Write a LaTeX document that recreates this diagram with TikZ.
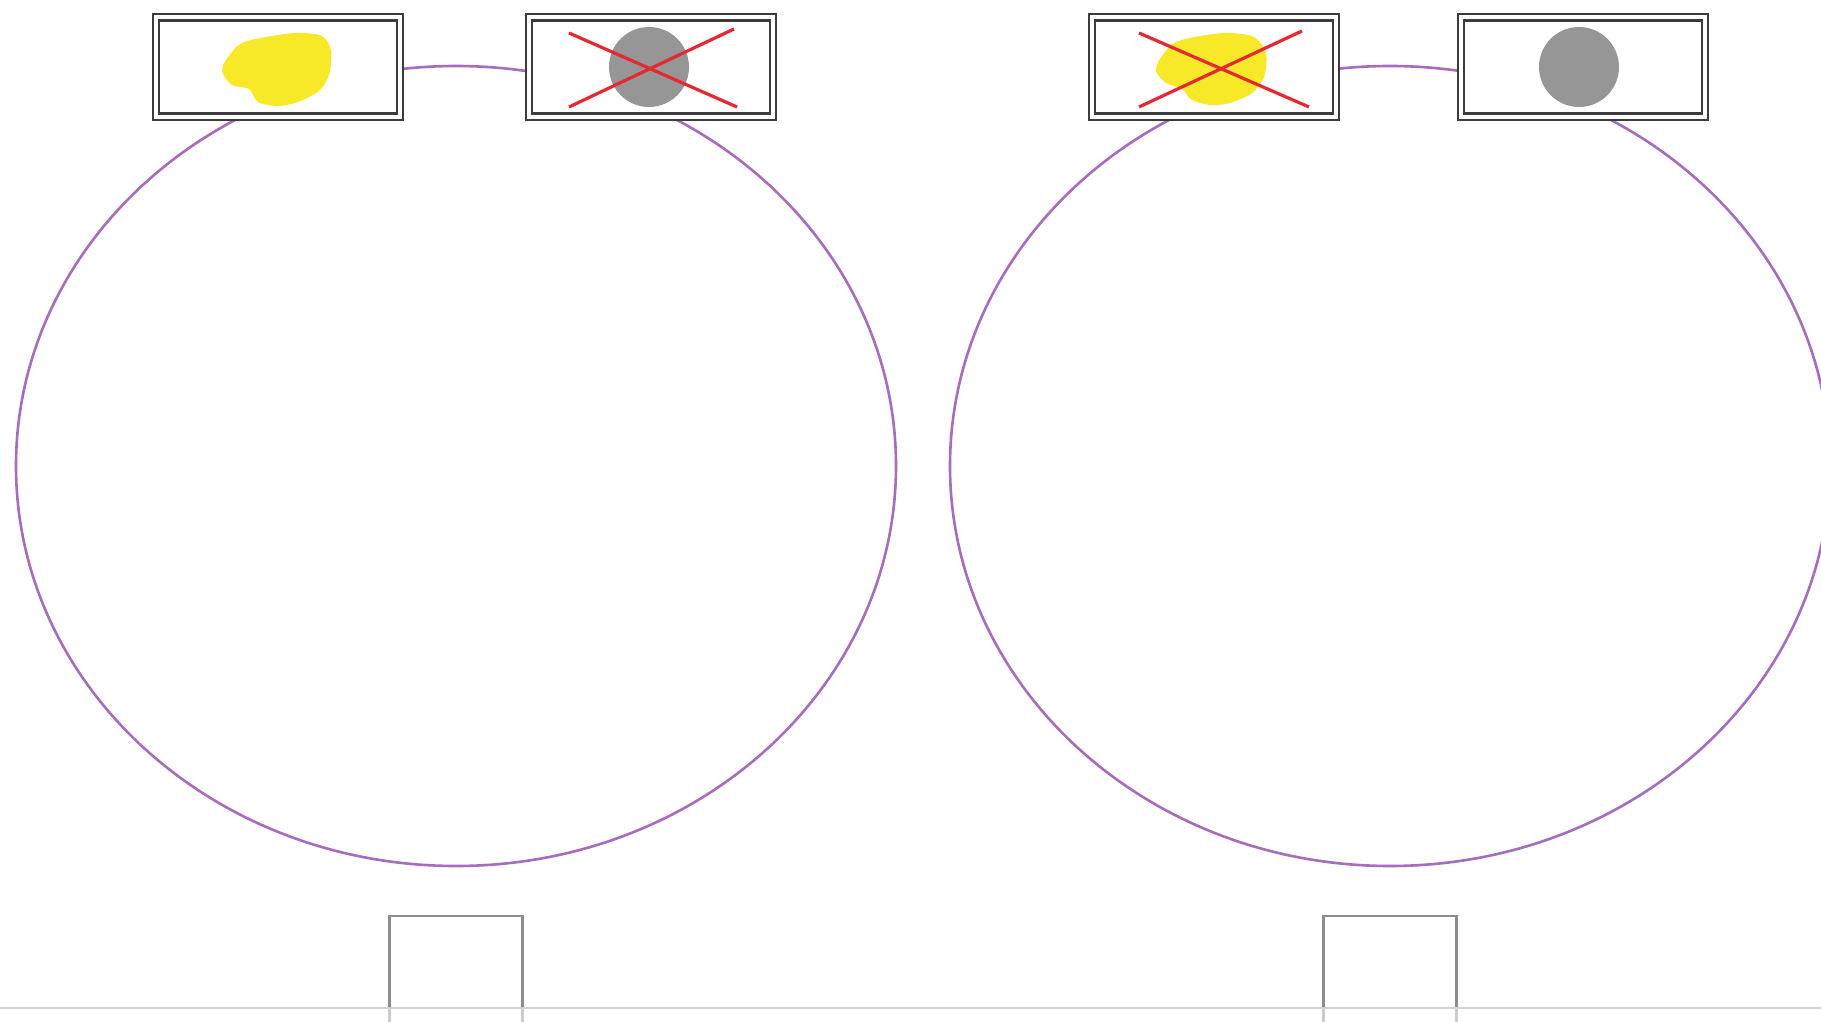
\documentclass[tikz,border=0pt]{standalone}
\usetikzlibrary{positioning}
\definecolor{ringpurple}{RGB}{166,108,190}
\definecolor{blobyellow}{RGB}{247,232,40}
\definecolor{dotgray}{RGB}{150,150,150}
\definecolor{crossred}{RGB}{230,40,50}
\definecolor{framegray}{RGB}{60,60,60}

\begin{document}
\begin{tikzpicture}[
  x=0.01cm,y=-0.01cm,
  frame/.style={draw=framegray,fill=white,double=white,double distance=0.04cm,
    line width=0.024cm,inner sep=0pt,minimum width=2.44cm,minimum height=0.99cm},
  slot/.style={draw=black!45,line width=0.022cm,inner sep=0pt,
    minimum width=1.33cm,minimum height=1.30cm},
  ring/.style={draw=ringpurple,line width=0.026cm},
  cross/.style={draw=crossred,line width=0.032cm}
]
\useasboundingbox (0,0) rectangle (1821,1022);
\clip (0,0) rectangle (1821,1022);
\fill[white] (0,0) rectangle (1821,1022);

% the two rings
\draw[ring] (456,466) ellipse [x radius=440, y radius=400];
\draw[ring] (1390,466) ellipse [x radius=440, y radius=400];

% picture cards on top of the rings
\node[frame] (cardA) at (278,67) {};
\node[frame] (cardB) at (651,67) {};
\node[frame] (cardC) at (1214,67) {};
\node[frame] (cardD) at (1583,67) {};

% first ring: yellow kept, gray crossed out
\fill[blobyellow,shift={(cardA.center)}] plot[smooth cycle] coordinates
  {(-50,-10) (-36,-24) (-12,-30) (18,-34) (44,-31) (53,-16) (51,8)
   (41,24) (20,35) (0,39) (-20,35) (-29,22) (-46,18) (-56,4)};
\fill[dotgray] (cardB.center) ++(-2,0) circle [radius=40];
\draw[cross,shift={(cardB.center)}] (-82,-34) -- (86,40);
\draw[cross,shift={(cardB.center)}] (-82,40) -- (83,-38);

% second ring: yellow crossed out, gray kept
\fill[blobyellow,shift={(cardC.center)}] plot[smooth cycle] coordinates
  {(-54,-8) (-40,-24) (-14,-31) (14,-34) (40,-30) (52,-14) (50,10)
   (38,26) (16,36) (-4,38) (-22,33) (-32,22) (-48,16) (-58,4)};
\draw[cross,shift={(cardC.center)}] (-75,-34) -- (95,40);
\draw[cross,shift={(cardC.center)}] (-75,40) -- (88,-36);
\fill[dotgray] (cardD.center) ++(-4,0) circle [radius=40];

% empty slots below
\node[slot] (slotL) at (456,981) {};
\node[slot] (slotR) at (1390,981) {};

% base line
\fill[white,opacity=0.55] (0,1009) rectangle (1821,1022);
\draw[black!18,line width=0.02cm] (0,1008) -- (1821,1008);
\end{tikzpicture}
\end{document}
